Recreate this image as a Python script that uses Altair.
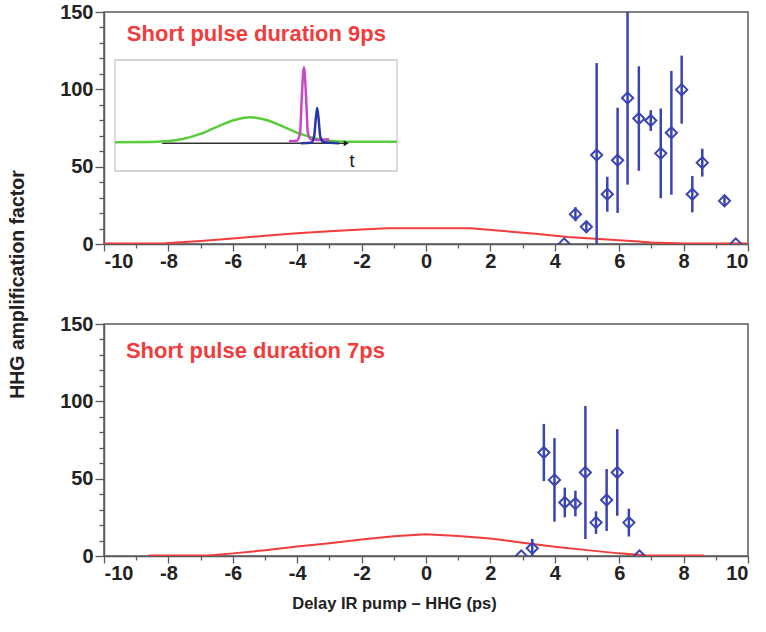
import altair as alt
import pandas as pd

# ---------------- data ----------------
# top panel (9 ps): measured points with error bars
x9 = [4.29, 4.64, 4.98, 5.30, 5.63, 5.95, 6.26, 6.61, 6.98, 7.29, 7.62, 7.94, 8.27, 8.58, 9.27, 9.62]
y9 = [0, 19.3, 11.1, 57.5, 32.2, 54.1, 94.4, 81.1, 79.8, 58.6, 71.9, 99.8, 32.2, 52.6, 27.9, 0]
e9 = [0, 4.5, 3.5, 59.5, 11.3, 34, 56, 33.8, 6.7, 29, 40, 22, 11.8, 9, 3.4, 0]
# top panel red curve
c9x = [-10, -8.1, -7, -6, -5, -4, -3, -2, -1.2, 0, 1.4, 2.4, 3.4, 4.4, 5.5, 6.5, 7, 8, 10]
c9y = [0.3, 0.5, 2.0, 3.6, 5.3, 6.9, 8.2, 9.4, 10.2, 10.2, 10.2, 8.4, 6.7, 4.6, 3.0, 1.7, 1.0, 0.4, 0.3]

# bottom panel (7 ps)
x7 = [2.96, 3.30, 3.66, 3.99, 4.31, 4.64, 4.95, 5.28, 5.61, 5.94, 6.30, 6.63]
y7 = [0, 5, 66.9, 49.2, 34.6, 33.9, 54, 21.6, 36.2, 54, 21.6, 0]
e7 = [0, 6, 18.5, 27, 9.6, 8.3, 43, 7.3, 20, 28, 9, 0]
c7x = [-8.62, -6.74, -6, -5, -4, -3, -2, -1, 0, 1, 2, 3, 4, 5, 6, 6.8, 8.63]
c7y = [0.3, 0.3, 1.7, 3.7, 6.1, 8.2, 10.6, 12.8, 14, 13, 11.3, 8.6, 6.0, 3.8, 1.7, 0.5, 0.3]

# panel labels
labels = ["Short pulse duration 9ps", "Short pulse duration 7ps"]
label_x = [-9.29, -9.32]
label_y = [131.4, 128.0]

# inset (schematic pulses), in its own 0-100 coordinates
box_t = [0, 100]
box_a = [0, 100]
green_t = [0, 12, 18, 24, 30, 36, 42, 48, 54, 60, 66, 72, 78, 84, 100]
green_a = [25.9, 26.1, 26.9, 28.9, 33.2, 39.6, 45.7, 48.4, 45.7, 39.6, 33.2, 28.9, 26.9, 26.4, 26.4]
mag_t = [61.7, 64.5, 65.6, 66.3, 67.0, 67.7, 68.4, 69.5, 72, 75.9]
mag_a = [26.8, 27.3, 34, 70, 93.4, 70, 34, 28.5, 28, 28.5]
blue_t = [65.9, 69.5, 70.6, 71.2, 71.7, 72.2, 72.8, 74, 79.4]
blue_a = [25, 25.4, 31, 47, 56.8, 47, 31, 25.8, 25]
axis_t = [16.7, 82]
axis_a = [25, 25]
t_label_pos = [84, 8]

FONT = "Liberation Sans"
BLUE = "#3a44b4"
RED = "#f23c3c"
INK = "#222222"


def xaxis(title):
    kw = dict(
        values=list(range(-10, 11)),
        tickCount=100,
        labelExpr="datum.value % 2 === 0 ? '' + datum.value : ''",
        tickSize={"condition": {"test": "datum.value % 2 === 0", "value": 7}, "value": 4},
        labelPadding=0,
        labelOverlap=False,
        grid=False,
    )
    if title:
        kw.update(title=title, titleX=290, titlePadding=12, titleFontSize=16.5)
    else:
        kw["title"] = None
    return alt.Axis(**kw)


def yaxis(title):
    kw = dict(
        values=list(range(0, 151, 10)),
        tickCount=100,
        labelExpr="datum.value % 50 === 0 ? '' + datum.value : ''",
        tickSize={"condition": {"test": "datum.value % 50 === 0", "value": 9}, "value": 5},
        labelPadding=2,
        labelOverlap=False,
        grid=False,
    )
    if title:
        kw.update(title=title, titleY=272, titlePadding=32, titleFontSize=19.5)
    else:
        kw["title"] = None
    return alt.Axis(**kw)


def panel(cx, cy, px, py, pe, k, xtitle, ytitle):
    xs = alt.Scale(domain=[-10, 10], nice=False, zero=False)
    ys = alt.Scale(domain=[0, 150], nice=False)
    curve = pd.DataFrame({"x": cx, "y": cy})
    pts = pd.DataFrame({"x": px, "y": py, "e": pe})
    lab = pd.DataFrame({"x": [label_x[k]], "y": [label_y[k]], "text": [labels[k]]})

    line = alt.Chart(curve).mark_line(color=RED, strokeWidth=2, clip=True).encode(
        x=alt.X("x:Q", scale=xs, axis=xaxis(xtitle)),
        y=alt.Y("y:Q", scale=ys, axis=yaxis(ytitle)),
    )
    bars = alt.Chart(pts).transform_calculate(
        lo="datum.y - datum.e", hi="datum.y + datum.e"
    ).mark_rule(color=BLUE, strokeWidth=2.5, clip=True).encode(
        x=alt.X("x:Q", scale=xs), y=alt.Y("lo:Q", scale=ys), y2="hi:Q"
    )
    dots = alt.Chart(pts).mark_point(
        shape="diamond", filled=False, color=BLUE, size=125, strokeWidth=2, clip=True, opacity=1
    ).encode(x=alt.X("x:Q", scale=xs), y=alt.Y("y:Q", scale=ys))
    txt = alt.Chart(lab).mark_text(
        align="left", baseline="alphabetic", font=FONT, fontWeight="bold", fontSize=22, color=RED
    ).encode(x=alt.X("x:Q", scale=xs), y=alt.Y("y:Q", scale=ys), text="text:N")
    return alt.layer(line, bars, dots, txt)


def inset():
    ixs = alt.Scale(domain=[0, 100], range=[11, 293], nice=False, zero=False)
    iys = alt.Scale(domain=[0, 100], range=[159, 48], nice=False, zero=False)
    X = lambda f: alt.X(f, scale=ixs, axis=None)
    Y = lambda f: alt.Y(f, scale=iys, axis=None)
    box = alt.Chart(pd.DataFrame({"t0": [box_t[0]], "t1": [box_t[1]], "a0": [box_a[0]], "a1": [box_a[1]]})).mark_rect(
        fill="white", stroke="#c8c8c8", strokeWidth=1.3
    ).encode(x=X("t0:Q"), x2="t1:Q", y=Y("a0:Q"), y2="a1:Q")
    ax = alt.Chart(pd.DataFrame({"t": axis_t, "a": axis_a})).mark_line(color="#333", strokeWidth=1.5).encode(
        x=X("t:Q"), y=Y("a:Q"))
    arrow = alt.Chart(pd.DataFrame({"t": [axis_t[1]], "a": [axis_a[1]]})).mark_point(
        shape="triangle-right", filled=True, color="#222", size=35, opacity=1
    ).encode(x=X("t:Q"), y=Y("a:Q"))
    green = alt.Chart(pd.DataFrame({"t": green_t, "a": green_a})).mark_line(
        color="#58cc3a", strokeWidth=2.5, interpolate="monotone").encode(x=X("t:Q"), y=Y("a:Q"))
    mag = alt.Chart(pd.DataFrame({"t": mag_t, "a": mag_a})).mark_line(
        color="#c846c8", strokeWidth=2.5, interpolate="monotone").encode(x=X("t:Q"), y=Y("a:Q"))
    blu = alt.Chart(pd.DataFrame({"t": blue_t, "a": blue_a})).mark_line(
        color="#2a36a8", strokeWidth=2.5, interpolate="monotone").encode(x=X("t:Q"), y=Y("a:Q"))
    tl = alt.Chart(pd.DataFrame({"t": [t_label_pos[0]], "a": [t_label_pos[1]], "s": ["t"]})).mark_text(
        font=FONT, fontSize=18, color="#111", align="center", baseline="middle"
    ).encode(x=X("t:Q"), y=Y("a:Q"), text="s:N")
    return alt.layer(box, ax, green, mag, blu, arrow, tl)


top = alt.layer(
    panel(c9x, c9y, x9, y9, e9, 0, None, "HHG amplification factor"), inset()
).resolve_scale(x="independent", y="independent").properties(width=644, height=232)

bottom = panel(c7x, c7y, x7, y7, e7, 1, "Delay IR pump \u2013 HHG (ps)", None).properties(width=644, height=232)

chart = alt.vconcat(top, bottom, spacing=80, bounds="flush").properties(
    padding={"left": 6, "top": 1, "right": 5, "bottom": 5}
).configure_view(stroke="#5a5a5a", strokeWidth=1.5).configure_axis(
    domainColor="#5a5a5a", domainWidth=1.5, tickColor="#5a5a5a", tickWidth=1.3,
    labelFont=FONT, labelFontWeight="bold", labelFontSize=20, labelColor=INK,
    titleFont=FONT, titleFontWeight="bold", titleColor=INK,
)

chart.save("out.html", embed_options={"renderer": "svg", "actions": False})
